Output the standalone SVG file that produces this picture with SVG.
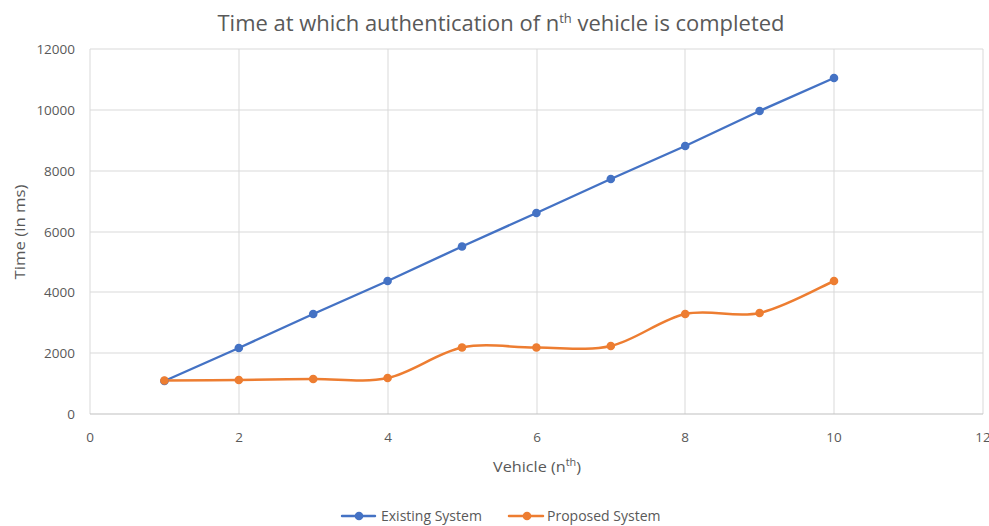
<svg xmlns="http://www.w3.org/2000/svg" width="989" height="526" viewBox="0 0 989 526">
  <style>
    .grid { stroke: #D9D9D9; stroke-width: 1; fill: none; }
    .axis { stroke: #BFBFBF; stroke-width: 1.2; fill: none; }
    .tick { font-family: "Open Sans", "Liberation Sans", sans-serif; font-size: 13.5px; fill: #595959; }
    .title { font-family: "Open Sans", "Liberation Sans", sans-serif; font-size: 22px; fill: #595959; }
    .atitle { font-family: "Open Sans", "Liberation Sans", sans-serif; font-size: 15px; fill: #595959; }
    .leg { font-family: "Open Sans", "Liberation Sans", sans-serif; font-size: 14px; fill: #595959; }
    .existing { stroke: #4472C4; stroke-width: 2.4; fill: none; stroke-linejoin: round; stroke-linecap: round; }
    .proposed { stroke: #ED7D31; stroke-width: 2.5; fill: none; stroke-linejoin: round; stroke-linecap: round; }
    .mb { fill: #4472C4; }
    .mo { fill: #ED7D31; }
  </style>
  <rect width="989" height="526" fill="#FFFFFF"/>

  <!-- chart title -->
  <text id="title" class="title" x="501" y="31" text-anchor="middle" textLength="567" lengthAdjust="spacingAndGlyphs">Time at which authentication of n<tspan dy="-8" font-size="13">th</tspan><tspan dy="8"> vehicle is completed</tspan></text>

  <!-- plot grid -->
  <g id="grid">
    <line class="grid" x1="90" y1="49" x2="983" y2="49"/>
    <line class="grid" x1="90" y1="110" x2="983" y2="110"/>
    <line class="grid" x1="90" y1="171" x2="983" y2="171"/>
    <line class="grid" x1="90" y1="232" x2="983" y2="232"/>
    <line class="grid" x1="90" y1="292" x2="983" y2="292"/>
    <line class="grid" x1="90" y1="353" x2="983" y2="353"/>
    <line class="grid" x1="90" y1="49" x2="90" y2="414"/>
    <line class="grid" x1="239" y1="49" x2="239" y2="414"/>
    <line class="grid" x1="388" y1="49" x2="388" y2="414"/>
    <line class="grid" x1="537" y1="49" x2="537" y2="414"/>
    <line class="grid" x1="685" y1="49" x2="685" y2="414"/>
    <line class="grid" x1="834" y1="49" x2="834" y2="414"/>
    <line class="grid" x1="983" y1="49" x2="983" y2="414"/>
    <line class="axis" x1="90" y1="414" x2="983" y2="414"/>
  </g>

  <!-- y tick labels -->
  <g id="y-ticks" class="tick" text-anchor="end">
    <text x="75" y="54">12000</text>
    <text x="75" y="115">10000</text>
    <text x="75" y="176">8000</text>
    <text x="75" y="237">6000</text>
    <text x="75" y="297">4000</text>
    <text x="75" y="358">2000</text>
    <text x="75" y="419">0</text>
  </g>

  <!-- x tick labels -->
  <g id="x-ticks" class="tick" text-anchor="middle">
    <text x="90" y="442">0</text>
    <text x="239" y="442">2</text>
    <text x="388" y="442">4</text>
    <text x="537" y="442">6</text>
    <text x="685" y="442">8</text>
    <text x="834" y="442">10</text>
    <text x="983" y="442">12</text>
  </g>

  <!-- axis titles -->
  <text id="x-title" class="atitle" x="537" y="472" text-anchor="middle" textLength="88" lengthAdjust="spacingAndGlyphs">Vehicle (n<tspan dy="-6" font-size="10">th</tspan><tspan dy="6">)</tspan></text>
  <text id="y-title" class="atitle" transform="translate(25,232) rotate(-90)" text-anchor="middle" textLength="95" lengthAdjust="spacingAndGlyphs">Time (in ms)</text>

  <!-- data series -->
  <g id="connectors">
    <polyline id="existing-line" class="existing" points="164.4,381 238.8,348 313.2,314 387.6,281 462,246.5 536.4,213 610.8,179 685.2,146 759.6,111 834,78"/>
    <path id="proposed-line" class="proposed" d="M164.4,380.5 C176.8,380.42 214,380.25 238.8,380 C263.6,379.75 288.4,379.33 313.2,379 C338,378.67 362.8,383.25 387.6,378 C412.4,372.75 437.2,352.58 462,347.5 C486.8,342.42 511.6,347.75 536.4,347.5 C561.2,347.25 586,351.58 610.8,346 C635.6,340.42 660.4,319.5 685.2,314 C710,308.5 734.8,318.5 759.6,313 C784.4,307.5 821.6,286.33 834,281"/>
  </g>

  <g id="existing-points" class="mb">
    <circle cx="164.4" cy="381" r="4.3"/>
    <circle cx="238.8" cy="348" r="4.3"/>
    <circle cx="313.2" cy="314" r="4.3"/>
    <circle cx="387.6" cy="281" r="4.3"/>
    <circle cx="462" cy="246.5" r="4.3"/>
    <circle cx="536.4" cy="213" r="4.3"/>
    <circle cx="610.8" cy="179" r="4.3"/>
    <circle cx="685.2" cy="146" r="4.3"/>
    <circle cx="759.6" cy="111" r="4.3"/>
    <circle cx="834" cy="78" r="4.3"/>
  </g>

  <g id="proposed-points" class="mo">
    <circle cx="164.4" cy="380.5" r="4.3"/>
    <circle cx="238.8" cy="380" r="4.3"/>
    <circle cx="313.2" cy="379" r="4.3"/>
    <circle cx="387.6" cy="378" r="4.3"/>
    <circle cx="462" cy="347.5" r="4.3"/>
    <circle cx="536.4" cy="347.5" r="4.3"/>
    <circle cx="610.8" cy="346" r="4.3"/>
    <circle cx="685.2" cy="314" r="4.3"/>
    <circle cx="759.6" cy="313" r="4.3"/>
    <circle cx="834" cy="281" r="4.3"/>
  </g>

  <!-- legend -->
  <g id="legend-existing">
    <line class="existing" x1="342" y1="516" x2="375" y2="516" stroke-linecap="butt"/>
    <circle class="mb" cx="359" cy="516" r="4.3"/>
    <text class="leg" x="381" y="521">Existing System</text>
  </g>
  <g id="legend-proposed">
    <line class="proposed" x1="509" y1="516" x2="543" y2="516" stroke-linecap="butt"/>
    <circle class="mo" cx="527" cy="516" r="4.3"/>
    <text class="leg" x="547" y="521">Proposed System</text>
  </g>
</svg>
